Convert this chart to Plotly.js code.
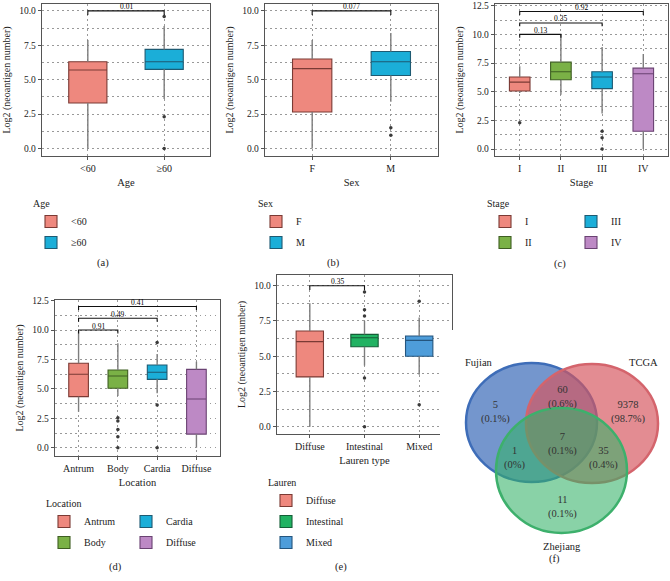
<!DOCTYPE html>
<html><head><meta charset="utf-8">
<script src="https://cdn.plot.ly/plotly-3.0.1.min.js"></script>
<style>html,body{margin:0;padding:0;background:#fff}</style>
</head><body><div id="chart" style="width:670px;height:581px"></div>
<script>
// ---------------- DATA ----------------
// (a) Age
const ageCats = ['<60', '≥60'];
const ageQ1 = [3.3, 5.75];
const ageMed = [5.7, 6.3];
const ageQ3 = [6.3, 7.2];
const ageLo = [0.0, 3.6];
const ageHi = [7.88, 8.9];
const ageOutCat = ['≥60', '≥60', '≥60'];
const ageOutVal = [9.6, 2.3, 0.0];
const agePairs = [['<60', '≥60', '0.01']];

// (b) Sex
const sexCats = ['F', 'M'];
const sexQ1 = [2.65, 5.3];
const sexMed = [5.8, 6.3];
const sexQ3 = [6.5, 7.05];
const sexLo = [0.0, 3.4];
const sexHi = [7.88, 8.4];
const sexOutCat = ['M', 'M'];
const sexOutVal = [1.5, 0.95];
const sexPairs = [['F', 'M', '0.077']];

// (c) Stage
const stageCats = ['I', 'II', 'III', 'IV'];
const stageQ1 = [5.06, 6.05, 5.27, 1.56];
const stageMed = [5.84, 6.74, 6.28, 6.57];
const stageQ3 = [6.28, 7.58, 6.74, 7.06];
const stageLo = [4.9, 4.75, 3.1, 0.0];
const stageHi = [7.23, 10.0, 8.9, 8.3];
const stageOutCat = ['I', 'III', 'III', 'III'];
const stageOutVal = [2.3, 1.56, 1.0, 0.0];
const stagePairs = [['I', 'II', '0.13'], ['I', 'III', '0.35'], ['I', 'IV', '0.92']];

// (d) Location
const locCats = ['Antrum', 'Body', 'Cardia', 'Diffuse'];
const locQ1 = [4.34, 5.05, 5.81, 1.16];
const locMed = [6.24, 6.1, 6.41, 4.14];
const locQ3 = [7.18, 6.61, 7.03, 6.66];
const locLo = [3.06, 4.4, 4.62, 0.0];
const locHi = [9.9, 8.88, 7.97, 7.31];
const locOutCat = ['Body', 'Body', 'Body', 'Body', 'Body', 'Cardia', 'Cardia', 'Cardia'];
const locOutVal = [2.55, 2.27, 1.56, 0.94, 0.0, 8.93, 3.63, 0.0];
const locPairs = [['Antrum', 'Body', '0.91'], ['Antrum', 'Cardia', '0.49'], ['Antrum', 'Diffuse', '0.41']];

// (e) Lauren type
const lauCats = ['Diffuse', 'Intestinal', 'Mixed'];
const lauQ1 = [3.53, 5.67, 5.0];
const lauMed = [6.03, 6.31, 6.12];
const lauQ3 = [6.79, 6.55, 6.43];
const lauLo = [0.0, 4.33, 3.69];
const lauHi = [8.76, 7.5, 7.74];
const lauOutCat = ['Intestinal', 'Intestinal', 'Intestinal', 'Intestinal', 'Intestinal', 'Mixed', 'Mixed'];
const lauOutVal = [9.55, 8.3, 7.85, 3.45, 0.0, 8.9, 1.55];
const lauPairs = [['Diffuse', 'Intestinal', '0.35']];

// (f) Venn
const vennSets = ['Fujian', 'TCGA', 'Zhejiang'];
const vennRegions = ['Fujian', 'Fujian∩TCGA', 'TCGA', 'Fujian∩Zhejiang', 'All', 'TCGA∩Zhejiang', 'Zhejiang'];
const vennCounts = [5, 60, 9378, 1, 7, 35, 11];
const vennPct = ['0.1%', '0.6%', '98.7%', '0%', '0.1%', '0.4%', '0.1%'];

// ---------------- STYLE / LAYOUT ----------------
const W = 670, H = 581;
const FONT = 'Liberation Serif, Times New Roman, serif';
const px = p => p / W;
const py = p => 1 - p / H;

const C = {
  salmon: ['#EE887E', '#7A3A34'],
  cyan: ['#1BAED8', '#1E5A72'],
  green: ['#7AB146', '#3E5E22'],
  purple: ['#BD89C5', '#6A4272'],
  lgreen: ['#21B262', '#145E37'],
  blue: ['#4E9DDA', '#24557E']
};

const panels = [
  {id: '', cats: ageCats, q1: ageQ1, med: ageMed, q3: ageQ3, lo: ageLo, hi: ageHi, oc: ageOutCat, ov: ageOutVal, pairs: agePairs,
   cols: [C.salmon, C.cyan], title: 'Age', dx: [42, 210], dy: [4, 156], yr: [-0.55, 10.5], yt: [0, 2.5, 5, 7.5, 10],
   legs: [{name: 'legend', x: 31, y: 194, idx: [0, 1], title: 'Age'}], lab: ['(a)', 103, 263]},
  {id: '2', cats: sexCats, q1: sexQ1, med: sexMed, q3: sexQ3, lo: sexLo, hi: sexHi, oc: sexOutCat, ov: sexOutVal, pairs: sexPairs,
   cols: [C.salmon, C.cyan], title: 'Sex', dx: [265, 438], dy: [4, 156], yr: [-0.55, 10.5], yt: [0, 2.5, 5, 7.5, 10],
   legs: [{name: 'legend2', x: 256, y: 194, idx: [0, 1], title: 'Sex'}], lab: ['(b)', 333, 263]},
  {id: '3', cats: stageCats, q1: stageQ1, med: stageMed, q3: stageQ3, lo: stageLo, hi: stageHi, oc: stageOutCat, ov: stageOutVal, pairs: stagePairs,
   cols: [C.salmon, C.green, C.cyan, C.purple], title: 'Stage', dx: [495, 668], dy: [4, 156], yr: [-0.6, 12.65], yt: [0, 2.5, 5, 7.5, 10, 12.5],
   legs: [{name: 'legend3', x: 485, y: 194, idx: [0, 1], title: 'Stage'}, {name: 'legend4', x: 571, y: 207, idx: [2, 3]}], lab: ['(c)', 560, 264]},
  {id: '4', cats: locCats, q1: locQ1, med: locMed, q3: locQ3, lo: locLo, hi: locHi, oc: locOutCat, ov: locOutVal, pairs: locPairs,
   cols: [C.salmon, C.green, C.cyan, C.purple], title: 'Location', dx: [55, 220], dy: [300, 456], yr: [-0.7, 12.55], yt: [0, 2.5, 5, 7.5, 10, 12.5],
   legs: [{name: 'legend5', x: 44, y: 494, idx: [0, 1], title: 'Location'}, {name: 'legend6', x: 126, y: 507, idx: [2, 3]}], lab: ['(d)', 115, 567]},
  {id: '5', cats: lauCats, q1: lauQ1, med: lauMed, q3: lauQ3, lo: lauLo, hi: lauHi, oc: lauOutCat, ov: lauOutVal, pairs: lauPairs,
   cols: [C.salmon, C.lgreen, C.blue], title: 'Lauren type', dx: [277, 452], dy: [275, 434], yr: [-0.52, 10.76], yt: [0, 2.5, 5, 7.5, 10],
   legs: [{name: 'legend7', x: 266, y: 473, idx: [0, 1, 2], title: 'Lauren'}], lab: ['(e)', 341, 567]}
];

const traces = [];
const annotations = [];
const shapes = [];
const layout = {
  width: W, height: H, margin: {l: 0, r: 0, t: 0, b: 0},
  paper_bgcolor: '#fff', plot_bgcolor: '#fff',
  font: {family: FONT, size: 10, color: '#222'},
  boxmode: 'overlay', hovermode: false, showlegend: true
};

const gridDash = '1.5px,3.5px';
panels.forEach((p, k) => {
  const xa = 'x' + p.id, ya = 'y' + p.id;
  const xk = 'xaxis' + p.id, yk = 'yaxis' + p.id;
  const n = p.cats.length;
  layout[xk] = {
    domain: [px(p.dx[0]), px(p.dx[1])], anchor: ya, range: [-0.6, n - 0.4],
    tickvals: p.cats.map((c, i) => i), ticktext: p.cats,
    showgrid: true, gridcolor: '#999', griddash: gridDash, gridwidth: 1,
    showline: true, mirror: true, linecolor: '#555', linewidth: 1.3,
    ticks: 'outside', ticklen: 3, tickcolor: '#555', zeroline: false,
    tickfont: {size: 10, color: '#222'},
    title: {text: p.title, font: {size: 10.5}, standoff: 5}
  };
  layout[yk] = {
    domain: [py(p.dy[1]), py(p.dy[0])], anchor: xa, range: p.yr,
    tickvals: p.yt, tickformat: '.1f',
    showgrid: true, gridcolor: '#999', griddash: gridDash, gridwidth: 1,
    minor: {dtick: 1.25, tick0: 0, showgrid: true, gridcolor: '#999', griddash: gridDash, ticklen: 0},
    showline: true, mirror: true, linecolor: '#555', linewidth: 1.3,
    ticks: 'outside', ticklen: 3, tickcolor: '#555', zeroline: false,
    tickfont: {size: 9.5, color: '#222'},
    title: {text: 'Log2 (neoantigen number)', font: {size: 10}, standoff: 6}
  };
  const idxOf = c => p.cats.indexOf(c);
  // whiskers
  p.cats.forEach((c, i) => {
    traces.push({type: 'scatter', mode: 'lines', xaxis: xa, yaxis: ya, showlegend: false,
      x: [i, i, null, i, i], y: [p.lo[i], p.q1[i], null, p.q3[i], p.hi[i]],
      line: {color: '#7d7d7d', width: 1.4}, hoverinfo: 'skip'});
  });
  // boxes
  const legOf = {};
  p.legs.forEach(L => L.idx.forEach(i => legOf[i] = L.name));
  p.cats.forEach((c, i) => {
    traces.push({type: 'box', name: c, xaxis: xa, yaxis: ya, x: [i],
      q1: [p.q1[i]], median: [p.med[i]], q3: [p.q3[i]], lowerfence: [p.q1[i]], upperfence: [p.q3[i]],
      width: 0.5, whiskerwidth: 0, boxpoints: false,
      fillcolor: p.cols[i][0], line: {color: p.cols[i][1], width: 1.1},
      legend: legOf[i], legendgroup: 'g' + k + '_' + i, showlegend: true});
  });
  // outliers
  traces.push({type: 'scatter', mode: 'markers', xaxis: xa, yaxis: ya, showlegend: false,
    x: p.oc.map(idxOf), y: p.ov, marker: {color: '#3a3a3a', size: 3.5}, hoverinfo: 'skip'});
  // brackets
  p.pairs.forEach((pr, j) => {
    const a = idxOf(pr[0]), b = idxOf(pr[1]);
    const h = 10 + j;
    traces.push({type: 'scatter', mode: 'lines', xaxis: xa, yaxis: ya, showlegend: false,
      x: [a, a, b, b], y: [h - 0.3, h, h, h - 0.3], line: {color: '#111', width: 1.1}, hoverinfo: 'skip'});
    annotations.push({xref: xa, yref: ya, x: (a + b) / 2, y: h, text: pr[2], showarrow: false,
      yanchor: 'bottom', yshift: -2.5, font: {size: 7.5, color: '#000'}});
  });
  // legends
  p.legs.forEach(L => {
    const lg = {x: px(L.x), y: py(L.y), xanchor: 'left', yanchor: 'top', bgcolor: 'rgba(0,0,0,0)',
      font: {size: 10, color: '#222'}, traceorder: 'grouped', tracegroupgap: 2, itemclick: false, itemdoubleclick: false};
    if (L.title) lg.title = {text: L.title, font: {size: 10}};
    layout[L.name] = lg;
  });
  annotations.push({xref: 'paper', yref: 'paper', x: px(p.lab[1]), y: py(p.lab[2]), text: p.lab[0],
    showarrow: false, font: {size: 10.5}, xanchor: 'center', yanchor: 'middle'});
});

// ---- Venn (f) ----
// geometry in pixel units of a hidden axis
layout.xaxis6 = {domain: [px(440), 1], range: [440, 670], visible: false, fixedrange: true};
layout.yaxis6 = {domain: [py(560), py(330)], range: [560, 330], visible: false, fixedrange: true, anchor: 'x6'};
const vennCircle = [
  {cx: 531.5, cy: 422.5, rx: 65.5, ry: 59.5, fill: 'rgba(62,110,186,0.72)', line: '#3E6DB8'},
  {cx: 592, cy: 423.5, rx: 66, ry: 59.5, fill: 'rgba(214,86,94,0.68)', line: '#D4646C'},
  {cx: 561.5, cy: 470.5, rx: 65.5, ry: 62.5, fill: 'rgba(52,178,104,0.58)', line: '#3DB06C'}
];
vennCircle.forEach(c => shapes.push({type: 'circle', xref: 'x6', yref: 'y6',
  x0: c.cx - c.rx, x1: c.cx + c.rx, y0: c.cy - c.ry, y1: c.cy + c.ry,
  fillcolor: c.fill, line: {color: c.line, width: 2.5}, layer: 'above'}));
const vennSetPos = [[479, 362], [643, 362], [562, 546]];
vennSets.forEach((s, i) => annotations.push({xref: 'x6', yref: 'y6', x: vennSetPos[i][0], y: vennSetPos[i][1],
  text: s, showarrow: false, font: {size: 10.5, color: '#222'}}));
const vennRegPos = [[495, 412], [562, 397], [628, 412], [514, 458], [562, 444], [603, 458], [562, 507]];
vennCounts.forEach((n, i) => annotations.push({xref: 'x6', yref: 'y6', x: vennRegPos[i][0], y: vennRegPos[i][1],
  text: n + '<br>(' + vennPct[i] + ')', showarrow: false, font: {size: 10.5, color: '#333'}}));
annotations.push({xref: 'paper', yref: 'paper', x: px(562), y: py(567), text: '(f)', showarrow: false, font: {size: 10.5}});
// invisible anchor trace for venn axes
traces.push({type: 'scatter', xaxis: 'x6', yaxis: 'y6', x: [], y: [], showlegend: false});

layout.annotations = annotations;
layout.shapes = shapes;
Plotly.newPlot('chart', traces, layout, {staticPlot: true, displayModeBar: false});
</script></body></html>
